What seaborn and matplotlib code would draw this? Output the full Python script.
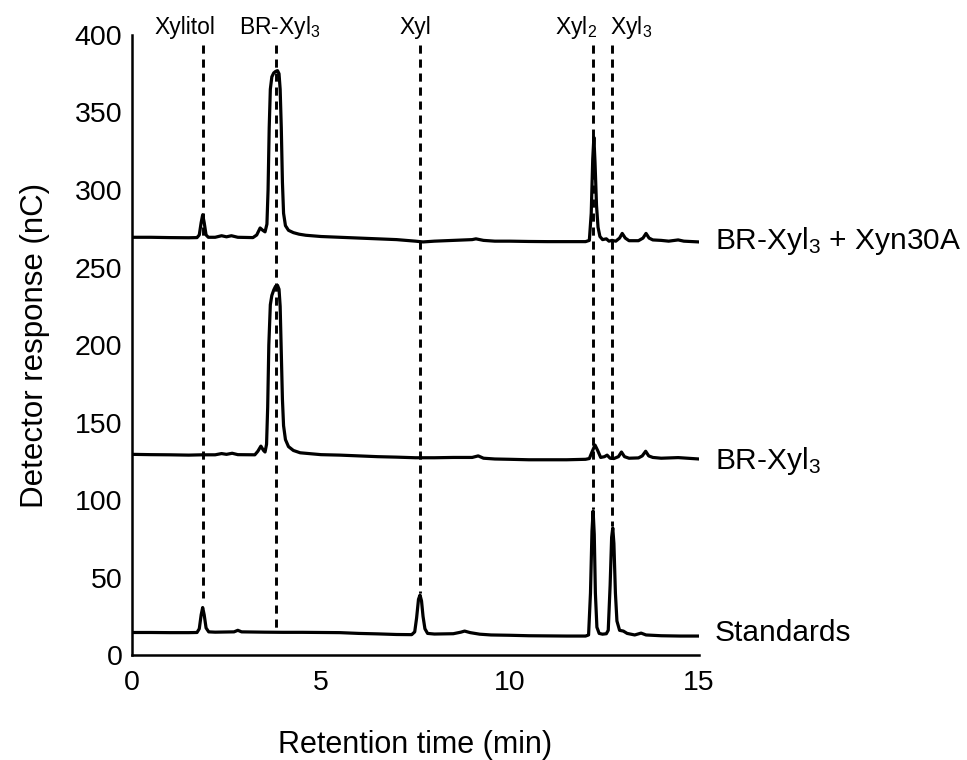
import matplotlib
matplotlib.use("Agg")
import matplotlib.pyplot as plt
import seaborn as sns
import pandas as pd

# ---- data ----
top_t = [0.0, 0.5, 1.0, 1.5, 1.72, 1.78, 1.83, 1.87, 1.91, 1.96, 2.02, 2.2, 2.37, 2.5, 2.63, 2.8,
         3.2, 3.3, 3.39, 3.46, 3.52, 3.57, 3.60, 3.63, 3.66, 3.70, 3.75, 3.80, 3.85, 3.89, 3.92,
         3.95, 3.98, 4.01, 4.06, 4.14, 4.27, 4.42, 4.6, 5.0, 5.5, 6.0, 6.5, 7.0, 7.5, 7.7, 8.0, 8.5,
         9.0, 9.1, 9.3, 9.6, 10.0, 10.5, 11.0, 11.5, 12.0, 12.1, 12.15, 12.19, 12.22, 12.25,
         12.29, 12.33, 12.38, 12.45, 12.55, 12.62, 12.7, 12.8, 12.9, 12.97, 13.05, 13.15, 13.4,
         13.52, 13.6, 13.68, 13.78, 14.0, 14.2, 14.45, 14.6, 15.0]
top_v = [269.5, 269.5, 269.3, 269.2, 269.3, 271, 279, 284, 279, 271, 269.5, 269.5, 270.5, 269.8, 270.5, 269.5,
         269.3, 271, 275.5, 274, 273, 278, 300, 340, 365, 373, 375.5, 376.5, 377, 375, 365,
         340, 305, 285, 277, 274, 272.5, 271.5, 270.8, 270, 269.5, 269, 268.5, 268, 267, 266.5, 267, 267.5,
         268, 268.5, 267.5, 267, 267, 266.8, 266.7, 266.7, 266.7, 267.5, 285, 320, 334, 318,
         290, 276, 270, 268, 268.5, 267, 267.5, 267, 269, 272, 269, 267.3, 267.3,
         269, 272, 269, 267.8, 267.5, 267, 267.8, 267, 266.5]

mid_t = [0.0, 0.5, 1.0, 1.5, 1.85, 2.2, 2.37, 2.5, 2.65, 2.8, 3.25, 3.33, 3.41, 3.48, 3.52, 3.56,
         3.59, 3.62, 3.66, 3.70, 3.75, 3.80, 3.85, 3.89, 3.92, 3.95, 3.98, 4.01, 4.06, 4.14, 4.27,
         4.45, 5.0, 5.5, 6.0, 6.5, 7.0, 7.5, 8.0, 8.5, 9.0, 9.16, 9.3, 9.6, 10.0, 10.5, 11.0, 11.5,
         12.0, 12.1, 12.17, 12.25, 12.32, 12.40, 12.5, 12.57, 12.65, 12.75, 12.87, 12.95, 13.03,
         13.15, 13.4, 13.5, 13.59, 13.67, 13.78, 14.0, 14.45, 15.0]
mid_v = [129.5, 129.3, 129.2, 129.0, 129.2, 129.2, 130, 129.5, 130.2, 129.3, 129.2, 131.5, 134.8, 132, 131, 136,
         160, 200, 226, 232, 235.5, 238, 238.5, 236, 225, 195, 165, 148, 139, 134.5, 132,
         130.5, 129.3, 129, 128.5, 128, 127.7, 127.3, 127.3, 127.5, 127.5, 128.5, 127, 126.5, 126.3, 126, 126, 126,
         126.3, 126.8, 131, 135.5, 132, 127.5, 128, 129, 127, 126.8, 128, 131, 128,
         127, 127.2, 128.5, 131.5, 128.5, 127.5, 127, 127.4, 126.5]

std_t = [0.0, 0.5, 1.0, 1.5, 1.72, 1.78, 1.83, 1.87, 1.91, 1.96, 2.03, 2.2, 2.7, 2.8, 2.9, 3.5,
         4.0, 4.5, 5.0, 5.5, 6.0, 6.5, 7.0, 7.4, 7.48, 7.53, 7.58, 7.62, 7.66, 7.70, 7.75, 7.82,
         8.0, 8.5, 8.7, 8.8, 8.95, 9.2, 9.5, 10.0, 10.5, 11.0, 11.5, 12.0, 12.08, 12.13, 12.17,
         12.2, 12.23, 12.26, 12.30, 12.36, 12.45, 12.55, 12.6, 12.65, 12.69, 12.72, 12.75, 12.79,
         12.83, 12.9, 13.0, 13.1, 13.3, 13.47, 13.6, 14.0, 14.5, 15.0]
std_v = [14.6, 14.6, 14.5, 14.5, 14.6, 17, 26, 30.7, 26, 17.5, 15, 14.8, 15, 16, 15, 14.8,
         14.7, 14.7, 14.6, 14.5, 14, 13.7, 13.3, 13.2, 15, 24, 36, 38.7, 35, 25, 17, 14,
         13.6, 13.8, 14.8, 15.5, 14.5, 13.5, 13, 12.8, 12.5, 12.4, 12.3, 12.3, 13, 40, 80,
         93, 78, 40, 18, 14, 13.5, 13.8, 16, 45, 76, 82, 72, 40,
         22, 16, 15.5, 14, 13, 14.2, 13, 12.5, 12.3, 12.3]

trace_names = ["BR-Xyl$_3$ + Xyn30A", "BR-Xyl$_3$", "Standards"]
trace_label_y = [267, 125, 14]

peak_names = ["Xylitol", "BR-Xyl$_3$", "Xyl", "Xyl$_2$", "Xyl$_3$"]
peak_times = [1.87, 3.81, 7.61, 12.2, 12.71]
peak_line_bottom = [37, 17, 40, 94, 83]
peak_label_x = [1.4, 3.92, 7.5, 11.75, 13.2]

# ---- style ----
sns.set_style("white")
plt.rcParams["font.family"] = ["Liberation Sans", "DejaVu Sans"]
plt.rcParams["mathtext.fontset"] = "custom"
plt.rcParams["mathtext.rm"] = "Liberation Sans"
plt.rcParams["mathtext.it"] = "Liberation Sans"
plt.rcParams["mathtext.default"] = "regular"
plt.rcParams["text.color"] = "black"
plt.rcParams["axes.labelcolor"] = "black"
plt.rcParams["xtick.color"] = "black"
plt.rcParams["ytick.color"] = "black"

fig = plt.figure(figsize=(9.67, 7.6), dpi=100)
ax = fig.add_axes([0.1365, 0.138, 0.5863, 0.816])

# dashed reference lines
for t, b in zip(peak_times, peak_line_bottom):
    ax.plot([t, t], [393.5, b], color="black", lw=2.1, linestyle=(0, (2.8, 2.0)), zorder=1)

for t, v in [(top_t, top_v), (mid_t, mid_v), (std_t, std_v)]:
    df = pd.DataFrame({"t": t, "v": v})
    sns.lineplot(data=df, x="t", y="v", color="black", lw=2.3, estimator=None,
                 sort=False, ax=ax, zorder=2)

ax.set_xlim(0, 15)
ax.set_ylim(0, 400)
ax.set_xticks([0, 5, 10, 15])
ax.set_yticks(range(0, 401, 50))
ax.tick_params(axis="both", length=0, labelsize=20.5, colors="black")
ax.tick_params(axis="y", pad=7)
ax.tick_params(axis="x", pad=11)
for s in ["top", "right"]:
    ax.spines[s].set_visible(False)
for s in ["left", "bottom"]:
    ax.spines[s].set_color("black")
    ax.spines[s].set_linewidth(1.8)

ax.set_xlabel("Retention time (min)", fontsize=22, labelpad=24)
ax.set_ylabel("Detector response (nC)", fontsize=22.5, labelpad=18)

for name, x in zip(peak_names, peak_label_x):
    ax.text(x, 405, name, ha="center", va="center", fontsize=16.5, clip_on=False)

for name, y in zip(trace_names, trace_label_y):
    ax.text(15.42, y, name, ha="left", va="center", fontsize=21.5, clip_on=False)

fig.savefig("out.png", dpi=100)
